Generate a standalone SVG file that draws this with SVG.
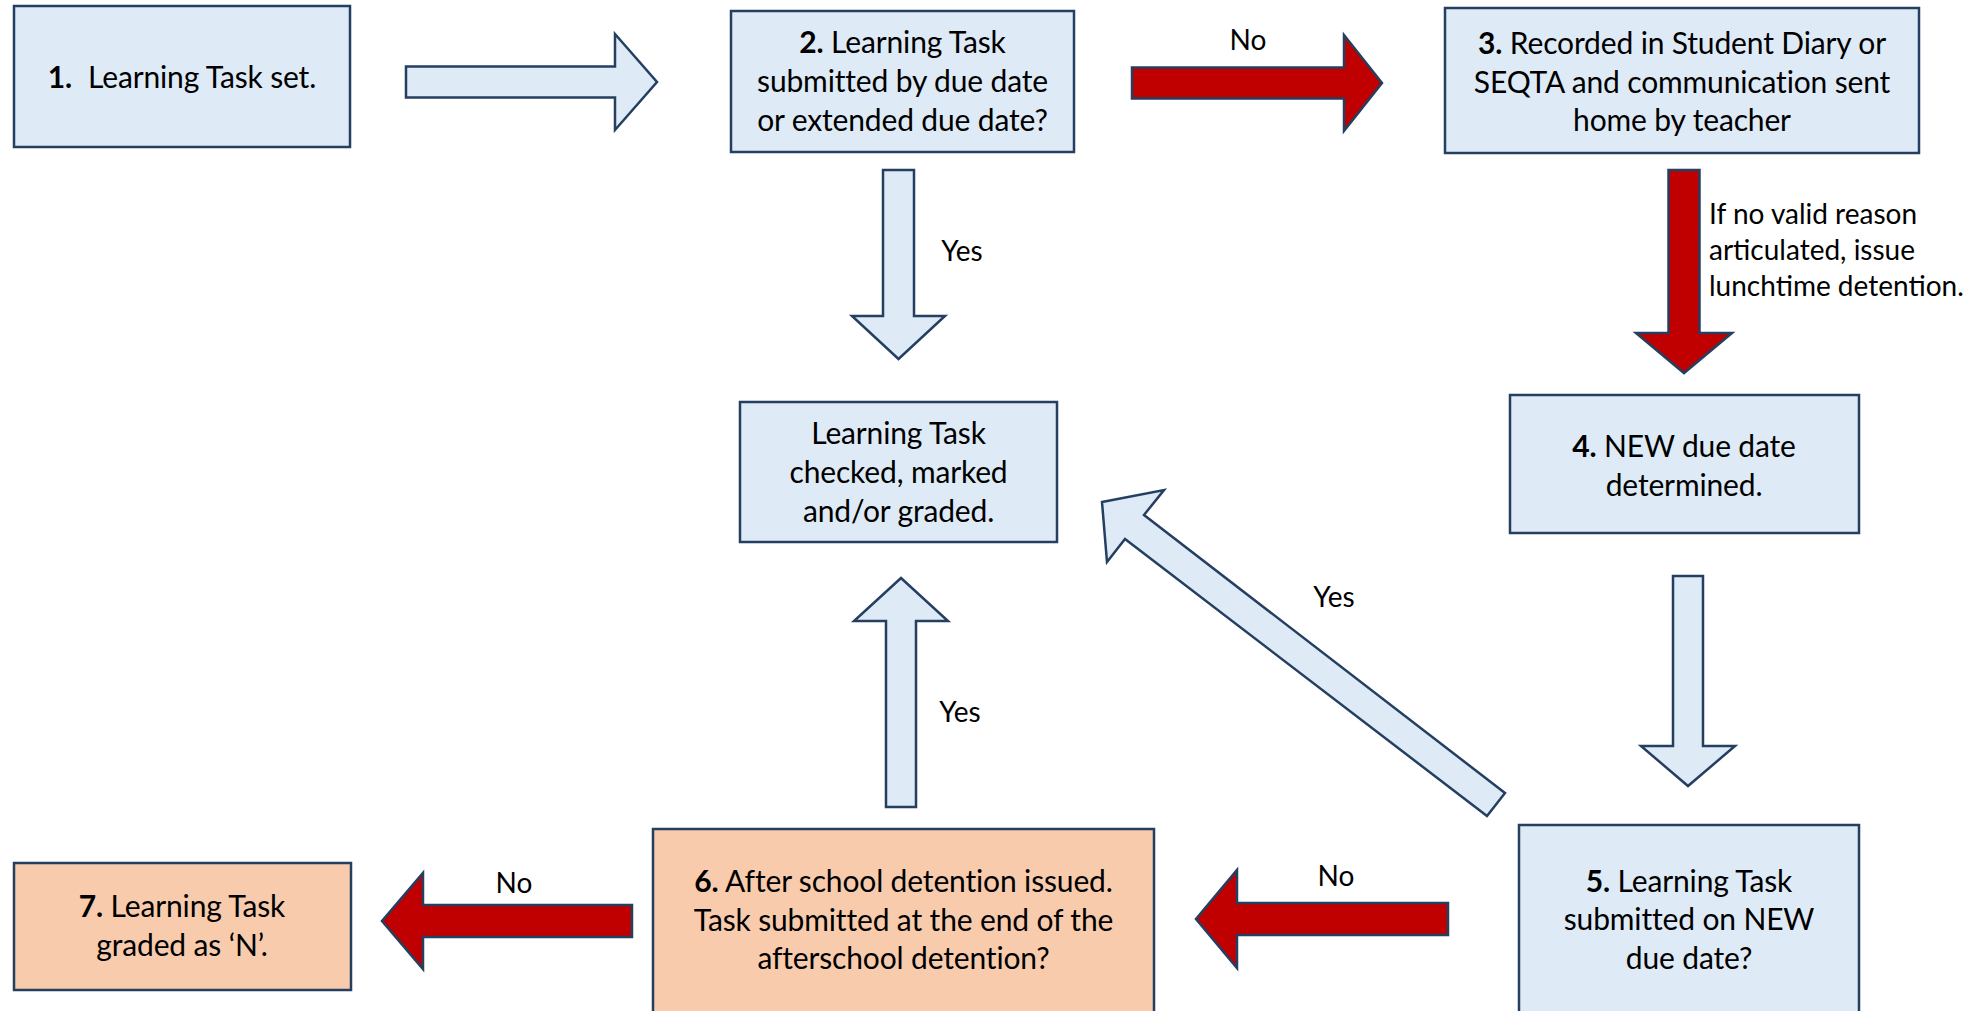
<svg xmlns="http://www.w3.org/2000/svg" width="1984" height="1011" viewBox="0 0 1984 1011">
<style>
.box{stroke:#243F60;stroke-width:2.5}
.blue{fill:#DEEAF6}
.orange{fill:#F8CBAD}
.arr{stroke:#243F60;stroke-width:2.5;stroke-linejoin:miter}
.arrb{fill:#DEEAF6}
.arrr{fill:#C00000}
text{font-family:Lato,"Liberation Sans",sans-serif;fill:#000}
.t{font-size:30px;letter-spacing:-0.15px;text-anchor:middle}
.l{font-size:28px}
.lc{font-size:28px;text-anchor:middle}
.b{font-weight:bold}
</style>
<rect width="1984" height="1011" fill="#FFFFFF"/>
<g id="connectors">
<polygon class="arr arrb" points="406,66.5 615,66.5 615,34 657,82 615,130 615,97.5 406,97.5"/>
<polygon class="arr arrr" points="1132,67.5 1344,67.5 1344,35 1382,83 1344,131 1344,98.5 1132,98.5"/>
<polygon class="arr arrr" points="1668.5,170 1699.5,170 1699.5,333 1732,333 1684,373 1636,333 1668.5,333"/>
<polygon class="arr arrb" points="883,170 914,170 914,316 945,316 898.5,359 852,316 883,316"/>
<polygon class="arr arrb" points="1673,576 1703,576 1703,746 1735,746 1688,786 1641,746 1673,746"/>
<polygon class="arr arrb" points="886,807 916,807 916,621 948,621 901,578 854,621 886,621"/>
<polygon class="arr arrr" points="1448,903 1237,903 1237,870 1196,919 1237,968 1237,935 1448,935"/>
<polygon class="arr arrr" points="632,905 423,905 423,873 382,921 423,969 423,937 632,937"/>
<polygon class="arr arrb" points="1102,502 1164,490 1144,515 1505,793 1487,816 1125,539 1107,562"/>
<text class="lc" x="1248" y="50">No</text>
<text class="l" x="1709" y="224">If no valid reason</text>
<text class="l" x="1709" y="260">articulated, issue</text>
<text class="l" x="1709" y="296">lunchtime detention.</text>
<text class="lc" x="962" y="261">Yes</text>
<text class="lc" x="1334" y="607">Yes</text>
<text class="lc" x="960" y="722">Yes</text>
<text class="lc" x="1336" y="886">No</text>
<text class="lc" x="514" y="893">No</text>
</g>
<g id="node1">
<rect class="box blue" x="14" y="6" width="336" height="141"/>
<text class="t" x="182" y="88"><tspan class="b">1.</tspan><tspan dx="16">Learning Task set.</tspan></text>
</g>
<g id="node2">
<rect class="box blue" x="731" y="11" width="343" height="141"/>
<text class="t" x="902.5" y="53"><tspan class="b">2.</tspan> Learning Task</text>
<text class="t" x="902.5" y="92">submitted by due date</text>
<text class="t" x="902.5" y="131">or extended due date?</text>
</g>
<g id="node3">
<rect class="box blue" x="1445" y="8" width="474" height="145"/>
<text class="t" x="1682" y="54"><tspan class="b">3.</tspan> Recorded in Student Diary or</text>
<text class="t" x="1682" y="93">SEQTA and communication sent</text>
<text class="t" x="1682" y="131">home by teacher</text>
</g>
<g id="node4">
<rect class="box blue" x="1510" y="395" width="349" height="138"/>
<text class="t" x="1684" y="457"><tspan class="b">4.</tspan> NEW due date</text>
<text class="t" x="1684" y="496">determined.</text>
</g>
<g id="node5">
<rect class="box blue" x="1519" y="825" width="340" height="200"/>
<text class="t" x="1689" y="892"><tspan class="b">5.</tspan> Learning Task</text>
<text class="t" x="1689" y="930">submitted on NEW</text>
<text class="t" x="1689" y="969">due date?</text>
</g>
<g id="node-checked">
<rect class="box blue" x="740" y="402" width="317" height="140"/>
<text class="t" x="898.5" y="444">Learning Task</text>
<text class="t" x="898.5" y="483">checked, marked</text>
<text class="t" x="898.5" y="522">and/or graded.</text>
</g>
<g id="node6">
<rect class="box orange" x="653" y="829" width="501" height="200"/>
<text class="t" x="903.5" y="892"><tspan class="b">6.</tspan> After school detention issued.</text>
<text class="t" x="903.5" y="931">Task submitted at the end of the</text>
<text class="t" x="903.5" y="969">afterschool detention?</text>
</g>
<g id="node7">
<rect class="box orange" x="14" y="863" width="337" height="127"/>
<text class="t" x="182" y="917"><tspan class="b">7.</tspan> Learning Task</text>
<text class="t" x="182" y="956">graded as ‘N’.</text>
</g>
</svg>
